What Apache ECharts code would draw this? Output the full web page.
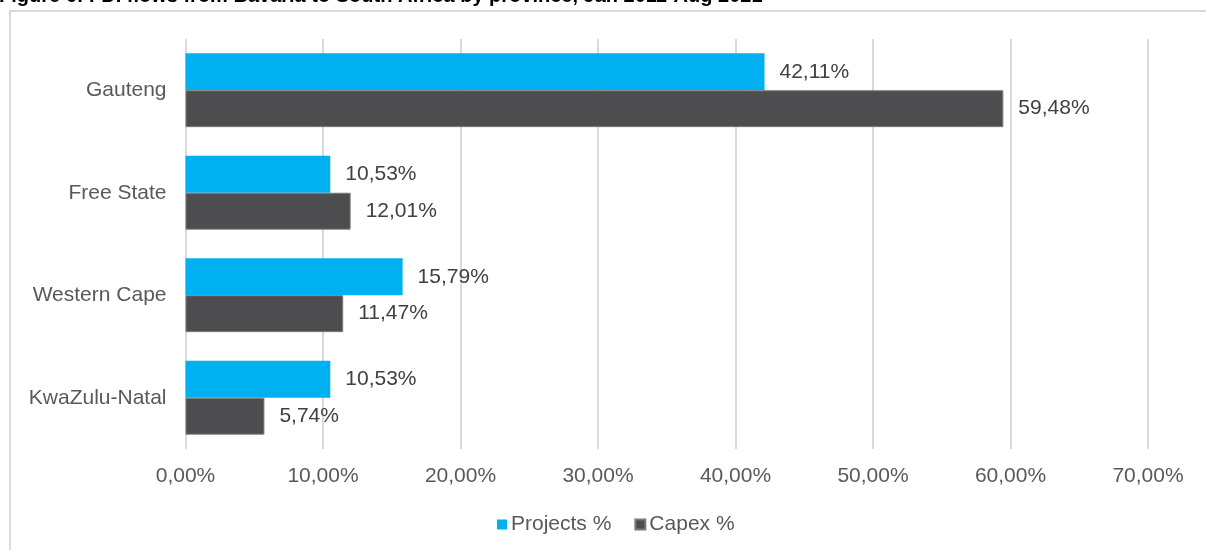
<!DOCTYPE html>
<html>
<head>
<meta charset="utf-8">
<script src="https://cdn.jsdelivr.net/npm/echarts@6/dist/echarts.min.js"></script>
<style>
  html, body { margin: 0; padding: 0; background: #fff; }
  #chart { width: 1206px; height: 550px; }
</style>
</head>
<body>
<div id="chart"></div>
<script>
// provinces, top to bottom
var provinces = ['Gauteng', 'Free State', 'Western Cape', 'KwaZulu-Natal'];
var projectsPct = [42.11, 10.53, 15.79, 10.53];
var capexPct = [59.48, 12.01, 11.47, 5.74];
var seriesNames = ['Projects %', 'Capex %'];
var titleText = 'Figure 6: FDI flows from Bavaria to South Africa by province, Jan 2011-Aug 2021';

var FONT = 'Arial, "Liberation Sans", sans-serif';

function pct(v) {
  return v.toFixed(2).replace('.', ',') + '%';
}

var chart = echarts.init(document.getElementById('chart'));

var option = {
  animation: false,
  backgroundColor: '#fff',
  title: {
    text: titleText,
    left: -1,
    top: -14,
    padding: 0,
    textStyle: { fontFamily: FONT, fontSize: 20, fontWeight: 'bold', color: '#000' }
  },
  graphic: [{
    type: 'rect',
    shape: { x: 10, y: 11, width: 1220, height: 560 },
    style: { fill: 'none', stroke: '#d9d9d9', lineWidth: 2 },
    silent: true,
    z: -1
  }],
  legend: {
    data: seriesNames,
    left: 497,
    top: 514,
    icon: 'rect',
    itemWidth: 10,
    itemHeight: 10,
    itemGap: 23,
    padding: 0,
    textStyle: { fontFamily: FONT, fontSize: 21, color: '#595959', padding: [0, 0, 0, -1] }
  },
  grid: { left: 185.5, right: 58, top: 39, bottom: 101 },
  xAxis: {
    type: 'value',
    min: 0,
    max: 70,
    interval: 10,
    axisLine: { show: false },
    axisTick: { show: false },
    splitLine: { lineStyle: { color: '#d9d9d9', width: 2 } },
    axisLabel: {
      formatter: pct,
      margin: 17,
      fontFamily: FONT, fontSize: 21, color: '#595959'
    }
  },
  yAxis: {
    type: 'category',
    data: provinces,
    inverse: true,
    axisLine: { show: false },
    axisTick: { show: false },
    axisLabel: { margin: 19, fontFamily: FONT, fontSize: 21, color: '#595959' }
  },
  series: [{
    name: seriesNames[0],
    type: 'bar',
    data: projectsPct,
    barGap: '0%',
    barCategoryGap: '28%',
    itemStyle: { color: '#00B0F0' },
    label: {
      show: true, position: 'right', distance: 15,
      formatter: function (p) { return pct(p.value); },
      fontFamily: FONT, fontSize: 21, color: '#404040'
    }
  }, {
    name: seriesNames[1],
    type: 'bar',
    data: capexPct,
    barGap: '0%',
    barCategoryGap: '28%',
    itemStyle: { color: '#4D4D4F', borderColor: '#7a7a7a', borderWidth: 1 },
    label: {
      show: true, position: 'right', distance: 15,
      formatter: function (p) { return pct(p.value); },
      fontFamily: FONT, fontSize: 21, color: '#404040'
    }
  }]
};

chart.setOption(option);
</script>
</body>
</html>
